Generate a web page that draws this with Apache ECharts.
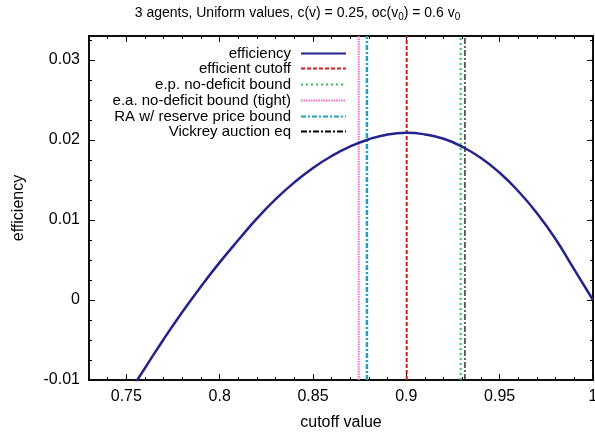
<!DOCTYPE html>
<html>
<head>
<meta charset="utf-8">
<script src="https://cdn.jsdelivr.net/npm/echarts@6/dist/echarts.min.js"></script>
<style>
html,body{margin:0;padding:0;background:#fff;}
#main{width:595px;height:432px;}
</style>
</head>
<body>
<div id="main"></div>
<script>
// ---- data ----
const cutoffX = [0.75, 0.76, 0.77, 0.78, 0.79, 0.80, 0.81, 0.82, 0.83, 0.84, 0.85, 0.86, 0.87, 0.88, 0.89, 0.90, 0.91, 0.92, 0.93, 0.94, 0.95, 0.96, 0.97, 0.98, 0.99, 1.00];
const efficiencyY = [-0.0121, -0.0085, -0.0049, -0.0015, 0.0017, 0.0047, 0.0075, 0.0102, 0.0126, 0.0147, 0.0165, 0.0180, 0.0192, 0.0201, 0.0207, 0.0209, 0.0207, 0.02015, 0.01915, 0.01775, 0.0159, 0.0136, 0.01085, 0.0076, 0.0038, 0.0000];
const boundNames = ['efficient cutoff', 'e.p. no-deficit bound', 'e.a. no-deficit bound (tight)', 'RA w/ reserve price bound', 'Vickrey auction eq'];
const boundValues = [0.9002, 0.9291, 0.8745, 0.8789, 0.9314];
const xTickLabels = [0.75, 0.8, 0.85, 0.9, 0.95, 1];
const yTickLabels = [-0.01, 0, 0.01, 0.02, 0.03];
const xRange = [0.73, 1.0];
const yRange = [-0.01, 0.033];

// ---- styling ----
const FONT = 'Liberation Sans';
const xMinor = [], yMinor = [];
for (let i = 73; i <= 100; i++) xMinor.push(i / 100);
for (let i = -4; i <= 13; i++) yMinor.push(i * 0.0025);

const boundStyles = [
  {color: '#cc2020', width: 2, type: [4, 2]},
  {color: '#33c050', width: 2, type: [2, 3]},
  {color: '#e870c4', width: 2, type: [1.5, 1]},
  {color: '#1fa0c0', width: 2.5, type: [5, 2, 2, 2]},
  {color: '#000000', width: 1.2, type: [6, 2, 2, 2]}
];

function xAx(pos, ticks, len, extra) {
  return Object.assign({
    type: 'value', position: pos, min: xRange[0], max: xRange[1],
    axisLine: {show: true, onZero: false, lineStyle: {color: '#000', width: 1.5}},
    axisTick: {show: true, inside: true, length: len, customValues: ticks, lineStyle: {color: '#000', width: 1}},
    axisLabel: {show: false},
    splitLine: {show: false}
  }, extra || {});
}
function yAx(pos, ticks, len, extra) {
  return Object.assign({
    type: 'value', position: pos, min: yRange[0], max: yRange[1],
    axisLine: {show: true, onZero: false, lineStyle: {color: '#000', width: 1.5}},
    axisTick: {show: true, inside: true, length: len, customValues: ticks, lineStyle: {color: '#000', width: 1}},
    axisLabel: {show: false},
    splitLine: {show: false}
  }, extra || {});
}

const series = [{
  name: 'efficiency', type: 'line', xAxisIndex: 0, yAxisIndex: 0,
  data: cutoffX.map((x, i) => [x, efficiencyY[i]]),
  smooth: true, symbol: 'none', clip: true,
  lineStyle: {color: '#23238e', width: 2.5}, itemStyle: {color: '#23238e'}, z: 5
}];
boundNames.forEach((n, i) => {
  series.push({
    name: n, type: 'line', xAxisIndex: 0, yAxisIndex: 0,
    data: [[boundValues[i], yRange[0]], [boundValues[i], yRange[1]]],
    symbol: 'none',
    lineStyle: boundStyles[i], itemStyle: {color: boundStyles[i].color}, z: 3
  });
});

const legendNames = ['efficiency'].concat(boundNames);
const legendTops = [46, 61, 77, 93, 109, 124];
const legends = legendNames.map((n, i) => ({
  data: [n], orient: 'vertical', right: 248, top: legendTops[i], align: 'right',
  itemWidth: 45, itemHeight: 14, padding: 0, selectedMode: false,
  itemStyle: {opacity: 0},
  textStyle: {fontFamily: FONT, fontSize: 15, lineHeight: 14, color: '#000', padding: [0, 5, 0, 0]}
}));

const option = {
  animation: false,
  backgroundColor: '#fff',
  title: {
    text: '3 agents, Uniform values, c(v) = 0.25, oc(v{s|0}) = 0.6 v{s|0}',
    left: 'center', top: 0,
    textStyle: {fontFamily: FONT, fontSize: 14, fontWeight: 'normal', color: '#000',
      rich: {s: {fontFamily: FONT, fontSize: 10, color: '#000', padding: [7, 0, 0, 0]}}}
  },
  legend: legends,
  grid: {left: 89, right: 2, top: 36, bottom: 52, outerBoundsMode: 'none', containLabel: false},
  xAxis: [
    xAx('bottom', xTickLabels, 6, {
      axisLabel: {show: true, customValues: xTickLabels, fontFamily: FONT, fontSize: 16, color: '#000', margin: 9},
      name: 'cutoff value', nameLocation: 'middle', nameGap: 35,
      nameTextStyle: {fontFamily: FONT, fontSize: 16, color: '#000'}
    }),
    xAx('top', xTickLabels, 6),
    xAx('bottom', xMinor, 3),
    xAx('top', xMinor, 3)
  ],
  yAxis: [
    yAx('left', yTickLabels, 6, {
      axisLabel: {show: true, customValues: yTickLabels, fontFamily: FONT, fontSize: 16, color: '#000', margin: 9},
      name: 'efficiency', nameLocation: 'middle', nameGap: 62, nameRotate: 90,
      nameTextStyle: {fontFamily: FONT, fontSize: 16, color: '#000'}
    }),
    yAx('right', yTickLabels, 6),
    yAx('left', yMinor, 3),
    yAx('right', yMinor, 3)
  ],
  series: series
};

const chart = echarts.init(document.getElementById('main'), null, {renderer: 'canvas'});
chart.setOption(option);
</script>
</body>
</html>
